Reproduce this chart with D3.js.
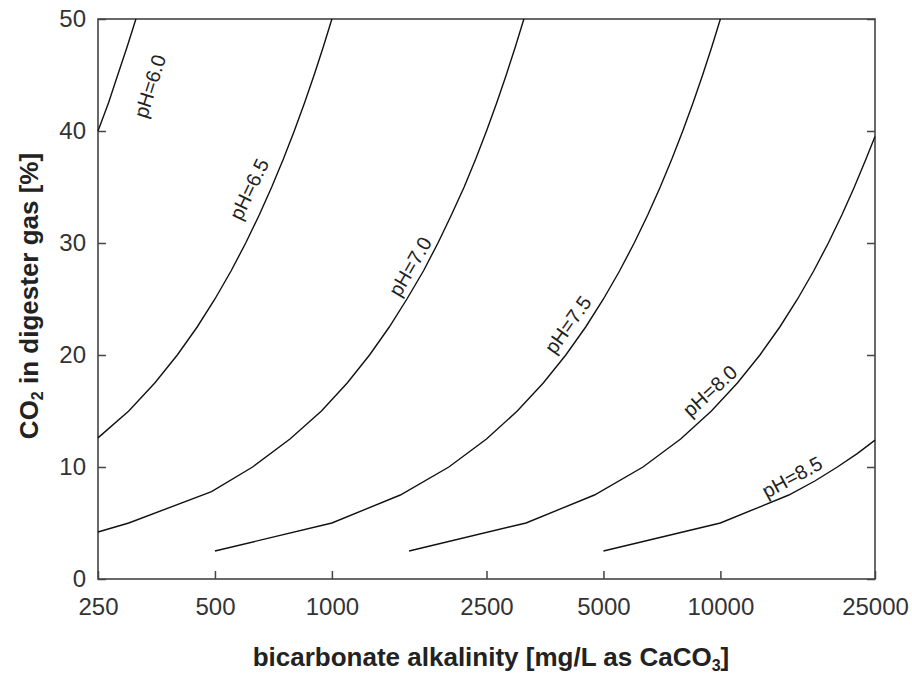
<!DOCTYPE html>
<html lang="en">
<head>
    <meta charset="UTF-8">
    <title>CO2 vs bicarbonate alkalinity</title>
    <script src="https://cdn.jsdelivr.net/npm/d3@7"></script>
    <style>
        body { margin: 0; background: #fff; }
        #chart { width: 912px; height: 673px; }
        text { font-family: "Liberation Sans", Arial, sans-serif; }
    </style>
</head>
<body>
<div id="chart"></div>
<script type="text/javascript">
    // tick values
    var xTicks = [250, 500, 1000, 2500, 5000, 10000, 25000];
    var yTicks = [0, 10, 20, 30, 40, 50];

    // curves: [alkalinity mg/L, CO2 %]
    var ph60 = [[250, 40], [266, 42.5], [281, 45], [297, 47.5], [313, 50]];
    var ph65 = [[250, 12.6], [300, 15], [350, 17.5], [400, 20], [450, 22.5], [500, 25], [550, 27.5],
        [600, 30], [650, 32.5], [700, 35], [750, 37.5], [800, 40], [850, 42.5], [900, 45], [950, 47.5],
        [1000, 50]];
    var ph70 = [[250, 4.2], [300, 5.0], [490, 7.8], [625, 10], [780, 12.5], [940, 15], [1095, 17.5],
        [1250, 20], [1405, 22.5], [1560, 25], [1720, 27.5], [1875, 30], [2030, 32.5], [2190, 35],
        [2345, 37.5], [2500, 40], [2655, 42.5], [2810, 45], [2965, 47.5], [3120, 50]];
    var ph75 = [[500, 2.5], [1000, 5], [1500, 7.5], [2000, 10], [2500, 12.5], [3000, 15], [3500, 17.5],
        [4000, 20], [4500, 22.5], [5000, 25], [5500, 27.5], [6000, 30], [6500, 32.5], [7000, 35],
        [7500, 37.5], [8000, 40], [8500, 42.5], [9000, 45], [9500, 47.5], [10000, 50]];
    var ph80 = [[1580, 2.5], [3160, 5], [4740, 7.5], [6320, 10], [7900, 12.5], [9480, 15], [11060, 17.5],
        [12640, 20], [14220, 22.5], [15800, 25], [17380, 27.5], [18960, 30], [20540, 32.5],
        [22120, 35], [23700, 37.5], [25000, 39.5]];
    var ph85 = [[5000, 2.5], [10000, 5], [15000, 7.5], [17500, 8.75], [20000, 10], [22500, 11.2],
        [25000, 12.4]];

    var curves = [ph60, ph65, ph70, ph75, ph80, ph85];
    var labels = ['pH=6.0', 'pH=6.5', 'pH=7.0', 'pH=7.5', 'pH=8.0', 'pH=8.5'];
    // where each label sits, [alkalinity, CO2]
    var labelAt = [[340, 44.0], [612, 34.8], [1590, 27.9], [4050, 22.7], [9400, 16.8], [15300, 9.1]];

    var svgw = 912, svgh = 673;
    var mLeft = 98, mRight = 875, mTop = 19, mBottom = 579;

    var svg = d3.select('#chart')
        .append('svg')
        .attr('width', svgw)
        .attr('height', svgh);

    var x_scale = d3.scaleLog()
        .domain([250, 25000])
        .range([mLeft, mRight]);

    var y_scale = d3.scaleLinear()
        .domain([0, 50])
        .range([mBottom, mTop]);

    // axes, ticks pointing inward
    var x_axis = d3.axisBottom(x_scale)
        .tickValues(xTicks)
        .tickFormat(d3.format('d'))
        .tickSizeInner(-8)
        .tickSizeOuter(0)
        .tickPadding(19);
    var gx = svg.append('g')
        .attr('transform', 'translate(0,' + mBottom + ')')
        .call(x_axis);

    var y_axis = d3.axisLeft(y_scale)
        .tickValues(yTicks)
        .tickSizeInner(-8)
        .tickSizeOuter(0)
        .tickPadding(12);
    var gy = svg.append('g')
        .attr('transform', 'translate(' + mLeft + ',0)')
        .call(y_axis);

    var y_axis_r = d3.axisRight(y_scale)
        .tickValues(yTicks)
        .tickSizeInner(-8)
        .tickSizeOuter(0)
        .tickFormat('');
    var gyr = svg.append('g')
        .attr('transform', 'translate(' + mRight + ',0)')
        .call(y_axis_r);

    [gx, gy, gyr].forEach(function (g) {
        g.select('.domain').remove();
        g.selectAll('line').attr('stroke', '#444').attr('stroke-width', 1.5);
        g.selectAll('text').attr('font-size', 24).attr('fill', '#333');
    });

    // frame
    svg.append('rect')
        .attr('x', mLeft)
        .attr('y', mTop)
        .attr('width', mRight - mLeft)
        .attr('height', mBottom - mTop)
        .attr('fill', 'none')
        .attr('stroke', '#444')
        .attr('stroke-width', 1.6);

    var line = d3.line()
        .x(function (d) { return x_scale(d[0]); })
        .y(function (d) { return y_scale(d[1]); });

    svg.selectAll('path.curve')
        .data(curves)
        .enter()
        .append('path')
        .attr('class', 'curve')
        .attr('d', line)
        .attr('fill', 'none')
        .attr('stroke', '#111')
        .attr('stroke-width', 1.4);

    // labels rotated along the local slope of their curve
    svg.selectAll('text.ph')
        .data(labels)
        .enter()
        .append('text')
        .attr('class', 'ph')
        .text(function (d) { return d; })
        .attr('font-size', 20)
        .attr('fill', '#222')
        .attr('text-anchor', 'middle')
        .attr('dominant-baseline', 'central')
        .attr('transform', function (d, i) {
            var c = curves[i], a = labelAt[i];
            var k = 1;
            while (k < c.length - 1 && c[k][0] < a[0]) k++;
            var dx = x_scale(c[k][0]) - x_scale(c[k - 1][0]);
            var dy = y_scale(c[k][1]) - y_scale(c[k - 1][1]);
            var ang = Math.atan2(dy, dx) * 180 / Math.PI;
            return 'translate(' + x_scale(a[0]) + ',' + y_scale(a[1]) + ') rotate(' + ang + ')';
        });

    // axis titles
    var xt = svg.append('text')
        .attr('x', 491)
        .attr('y', 666)
        .attr('text-anchor', 'middle')
        .attr('font-size', 26)
        .attr('font-weight', 'bold')
        .attr('fill', '#222');
    xt.append('tspan').text('bicarbonate alkalinity [mg/L as CaCO');
    xt.append('tspan').text('3').attr('font-size', 16).attr('dy', 5);
    xt.append('tspan').text(']').attr('dy', -5);

    var yt = svg.append('text')
        .attr('transform', 'translate(38,296) rotate(-90)')
        .attr('text-anchor', 'middle')
        .attr('font-size', 26)
        .attr('font-weight', 'bold')
        .attr('fill', '#222');
    yt.append('tspan').text('CO');
    yt.append('tspan').text('2').attr('font-size', 16).attr('dy', 5);
    yt.append('tspan').text(' in digester gas [%]').attr('dy', -5);
</script>
</body>
</html>
